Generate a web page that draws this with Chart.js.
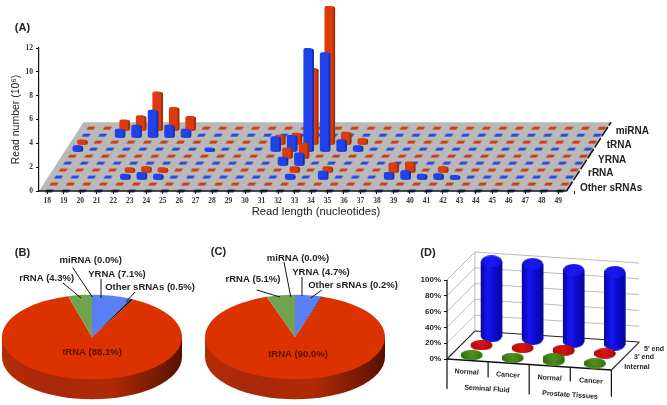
<!DOCTYPE html>
<html>
<head>
<meta charset="utf-8">
<style>
html, body { margin: 0; padding: 0; background: #fff; overflow: hidden; }
canvas { position: absolute; display: block; }
</style>
<script src="https://cdn.jsdelivr.net/npm/chart.js@4/dist/chart.umd.min.js"></script>
</head>
<body>
<canvas id="chartA" width="667" height="222" style="left:0px;top:0px"></canvas>
<canvas id="chartB" width="205" height="190" style="left:0px;top:215px"></canvas>
<canvas id="chartC" width="210" height="190" style="left:200px;top:215px"></canvas>
<canvas id="chartD" width="257" height="190" style="left:410px;top:215px"></canvas>
<script>
// panel A
const readLengths = [18,19,20,21,22,23,24,25,26,27,28,29,30,31,32,33,34,35,36,37,38,39,40,41,42,43,44,45,46,47,48,49]
const otherBlue = [0,0,0,0,0,0,0,0,0,0,0,0,0,0,0,0,0,0,0,0,0,0,0,0,0,0,0,0,0,0,0,0]
const otherRed  = [0,0,0,0,0,0,0,0,0,0,0,0,0,0,0,0,0,0,0,0,0,0,0,0,0,0,0,0,0,0,0,0]
const rRNABlue  = [0,0,0,0,0.25,0.4,0.25,0,0,0,0,0,0,0,0.25,0,0.5,0,0,0,0.4,0.55,0.25,0.3,0.15,0,0,0,0,0,0,0]
const rRNARed   = [0,0,0,0,0.2,0.3,0.2,0,0,0,0,0,0,0,0.3,0,0.3,0,0,0,0.6,0.7,0,0.3,0,0,0,0,0,0,0,0]
const YRNABlue  = [0,0,0,0,0,0,0,0,0,0,0,0,0,0.5,0.85,0,0,0,0,0,0,0,0,0,0,0,0,0,0,0,0,0]
const YRNARed   = [0,0,0,0,0,0,0,0,0,0,0,0,0,0.7,1.1,0,0,0,0,0,0,0,0,0,0,0,0,0,0,0,0,0]
const tRNABlue  = [0.3,0,0,0,0,0,0,0,0.1,0,0,0,1.05,1.15,8.45,8.1,0.8,0.3,0,0,0,0,0,0,0,0,0,0,0,0,0,0]
const tRNARed   = [0.2,0,0,0,0,0,0,0,0,0,0,0,0.6,0.75,6.2,11.4,0.85,0.3,0,0,0,0,0,0,0,0,0,0,0,0,0,0]
const miRNABlue = [0,0,0.5,0.85,2.1,0.85,0.5,0,0,0,0,0,0,0,0,0,0,0,0,0,0,0,0,0,0,0,0,0,0,0,0,0]
const miRNARed  = [0,0,0.7,1.05,3.05,1.75,1.0,0,0,0,0,0,0,0,0,0,0,0,0,0,0,0,0,0,0,0,0,0,0,0,0,0]
const rnaTypes = ['Other sRNAs', 'rRNA', 'YRNA', 'tRNA', 'miRNA']

// panels B and C, clockwise from 12 o'clock
const pieNames = ['YRNA', 'Other sRNAs', 'tRNA', 'rRNA', 'miRNA']
const pieColors = ['#5b80f6', '#1c1c1c', '#dc3200', '#6fa34e', '#333333']
const pieB = [7.1, 0.5, 88.1, 4.3, 0.0]
const pieC = [4.7, 0.2, 90.0, 5.1, 0.0]

// panel D
const samples = ['Normal', 'Cancer', 'Normal', 'Cancer']
const tissues = ['Seminal Fluid', 'Prostate Tissues']
const endLabels = ['Internal', "3' end", "5' end"]
const internalPct = [3, 3, 6, 3]
const threePrimePct = [3, 3, 4, 3]
const fivePrimePct = [95, 95, 91, 92]
const pctTicks = [0, 20, 40, 60, 80, 100]

const SANS = '"Liberation Sans", Arial, sans-serif'
Chart.defaults.font.family = SANS
Chart.defaults.animation = false
Chart.defaults.plugins.legend.display = false
Chart.defaults.plugins.tooltip.enabled = false

// text and small lines given in page coordinates
function notes(left, top, texts, lines) {
    return {
        id: 'notes',
        afterDraw(chart) {
            const ctx = chart.ctx
            ctx.save()
            ctx.strokeStyle = '#111'
            ctx.lineWidth = 1
            lines.forEach(l => {
                ctx.beginPath()
                ctx.moveTo(l[0] - left, l[1] - top)
                ctx.lineTo(l[2] - left, l[3] - top)
                ctx.stroke()
            })
            ctx.textBaseline = 'middle'
            texts.forEach(t => {
                ctx.save()
                ctx.translate(t.x - left, t.y - top)
                ctx.rotate(t.rot || 0)
                ctx.font = t.font
                ctx.fillStyle = t.color || '#222'
                ctx.textAlign = t.align || 'center'
                ctx.fillText(t.text, 0, 0)
                ctx.restore()
            })
            ctx.restore()
        }
    }
}

function line(points, color, width, order, extra) {
    return Object.assign({
        type: 'scatter', showLine: true, data: points, borderColor: color, borderWidth: width,
        pointRadius: 0, order: order, clip: false, fill: false, tension: 0
    }, extra || {})
}

// ---------- (A) ----------
const DEPTH_X = 0.28, DEPTH_Y = 0.586, BAR_SHIFT = 0.12
const LEFT_EDGE = 17.5, RIGHT_EDGE = 49.5, X_MAX = 55.29

function dashImage(color) {
    const c = document.createElement('canvas')
    c.width = 11
    c.height = 5
    const g = c.getContext('2d')
    g.fillStyle = color
    g.beginPath()
    g.moveTo(3, 0.9)
    g.lineTo(10.2, 0.9)
    g.lineTo(8, 4)
    g.lineTo(0.8, 4)
    g.closePath()
    g.fill()
    return c
}

function rowDatasets(values, depth, front, side, dash) {
    const flat = [], body = [], shade = []
    values.forEach((v, i) => {
        const x = readLengths[i] + BAR_SHIFT + depth * DEPTH_X
        const base = depth * DEPTH_Y
        if (v === 0) {
            flat.push({ x: x, y: base })
        } else {
            body.push({ x: x, y: [base - 0.2, base + v] })
            shade.push({ x: x + 0.12, y: [base - 0.2, base + v - 0.05] })
        }
    })
    const bar = (data, color, order) => ({
        type: 'bar', data: data, backgroundColor: color, barThickness: 8, grouped: false,
        borderRadius: 2, borderSkipped: false, order: order, clip: false
    })
    return [
        { type: 'scatter', data: flat, pointStyle: dashImage(dash), pointRadius: 4, order: depth * 10 + 3, clip: false },
        bar(shade, side, depth * 10 + 2),
        bar(body, front, depth * 10 + 1)
    ]
}

const BLUE = ['#1f42ea', '#1732b0', '#2a4cdc']
const RED = ['#dc3a08', '#a82c0a', '#cc3f14']
const floorCorners = [
    { x: LEFT_EDGE, y: 0 }, { x: RIGHT_EDGE, y: 0 },
    { x: RIGHT_EDGE + 2.7, y: 5.77 }, { x: LEFT_EDGE + 2.7, y: 5.77 }, { x: LEFT_EDGE, y: 0 }
]

new Chart(document.getElementById('chartA'), {
    type: 'bar',
    data: {
        datasets: [
            line(floorCorners, '#b9b9b9', 0, 1000, { fill: 'shape', backgroundColor: '#b9b9b9' }),
            line([floorCorners[0], floorCorners[1]], '#111', 1.4, -1),
            line([floorCorners[1], floorCorners[2]], '#111', 1.5, -1, { borderDash: [11, 2] }),
            ...rowDatasets(otherBlue, 0, ...BLUE.slice(0, 2), '#1f3299'),
            ...rowDatasets(otherRed, 1, ...RED),
            ...rowDatasets(rRNABlue, 2, ...BLUE),
            ...rowDatasets(rRNARed, 3, ...RED),
            ...rowDatasets(YRNABlue, 4, ...BLUE),
            ...rowDatasets(YRNARed, 5, ...RED),
            ...rowDatasets(tRNABlue, 6, ...BLUE),
            ...rowDatasets(tRNARed, 7, ...RED),
            ...rowDatasets(miRNABlue, 8, ...BLUE),
            ...rowDatasets(miRNARed, 9, ...RED)
        ]
    },
    options: {
        responsive: false,
        layout: { padding: { top: 48, left: 0, right: 0, bottom: 0 } },
        scales: {
            x: {
                type: 'linear', position: 'bottom', weight: 1, offset: false, min: LEFT_EDGE, max: X_MAX,
                grid: { display: false, drawTicks: false }, border: { display: false },
                afterBuildTicks: s => { s.ticks = readLengths.map(v => ({ value: v })) },
                afterFit: s => { s.height = 28 },
                ticks: {
                    autoSkip: false, maxRotation: 0, padding: 3, color: '#333',
                    font: { family: '"Liberation Serif", serif', size: 7.5, weight: 'bold' }
                }
            },
            xMarks: {
                type: 'linear', axis: 'x', position: 'bottom', weight: 0, offset: false, min: LEFT_EDGE, max: X_MAX,
                grid: { drawOnChartArea: false, tickLength: 3, tickColor: '#111' }, border: { display: false },
                afterBuildTicks: s => { s.ticks = readLengths.map(v => ({ value: v - 0.5 })).concat({ value: RIGHT_EDGE }) },
                afterFit: s => { s.height = 3 },
                ticks: { display: false, autoSkip: false }
            },
            y: {
                min: 0, max: 12,
                grid: { drawOnChartArea: false, tickLength: 3, tickColor: '#111' },
                border: { color: '#111', width: 1.2 },
                afterFit: s => { s.width = 39 },
                title: { display: true, text: 'Read number (10\u2076)', color: '#222', font: { size: 10.5 }, padding: { top: 10, bottom: 0 } },
                ticks: {
                    stepSize: 2, padding: 3, color: '#333',
                    font: { family: '"Liberation Serif", serif', size: 7.5, weight: 'bold' }
                }
            }
        }
    },
    plugins: [notes(0, 0, [
        { text: '(A)', x: 22.5, y: 28, font: 'bold 11px ' + SANS },
        { text: 'Read length (nucleotides)', x: 316, y: 212, font: '11.3px ' + SANS },
        { text: rnaTypes[4], x: 615.7, y: 131, align: 'left', font: 'bold 10px ' + SANS },
        { text: rnaTypes[3], x: 606.7, y: 145.5, align: 'left', font: 'bold 10px ' + SANS },
        { text: rnaTypes[2], x: 598, y: 160, align: 'left', font: 'bold 10px ' + SANS },
        { text: rnaTypes[1], x: 588, y: 173.5, align: 'left', font: 'bold 10px ' + SANS },
        { text: rnaTypes[0], x: 580, y: 188, align: 'left', font: 'bold 10px ' + SANS }
    ], [])]
})

// ---------- (B), (C) ----------
const TILT = 0.47, WALL = 20

const tiltedPie = {
    id: 'tiltedPie',
    beforeDatasetsDraw(chart) {
        const arc = chart.getDatasetMeta(0).data[0]
        const ctx = chart.ctx
        const cx = arc.x, cy = arc.y, r = arc.outerRadius
        const wall = ctx.createLinearGradient(cx - r, 0, cx + r, 0)
        wall.addColorStop(0, '#b42c08')
        wall.addColorStop(0.3, '#a8280a')
        wall.addColorStop(0.6, '#b02a06')
        wall.addColorStop(0.85, '#7a1c02')
        wall.addColorStop(1, '#561000')
        ctx.fillStyle = wall
        ctx.beginPath()
        ctx.moveTo(cx - r, cy)
        ctx.lineTo(cx - r, cy + WALL)
        ctx.ellipse(cx, cy + WALL, r, r * TILT, 0, Math.PI, 0, true)
        ctx.lineTo(cx + r, cy)
        ctx.closePath()
        ctx.fill()
        ctx.save()
        ctx.translate(cx, cy)
        ctx.scale(1, TILT)
        ctx.translate(-cx, -cy)
    },
    afterDatasetsDraw(chart) {
        chart.ctx.restore()
    }
}

function pieChart(id, values, padding, plugin) {
    return new Chart(document.getElementById(id), {
        type: 'pie',
        data: { labels: pieNames, datasets: [{ data: values, backgroundColor: pieColors, borderWidth: 0 }] },
        options: { responsive: false, radius: 90, layout: { padding: padding } },
        plugins: [tiltedPie, plugin]
    })
}

const PIE_FONT = 'bold 9.5px ' + SANS
const pct = (values, i) => pieNames[i] + ' (' + values[i].toFixed(1) + '%)'

pieChart('chartB', pieB, { top: 54, right: 21 }, notes(0, 215, [
    { text: '(B)', x: 22.5, y: 253, font: 'bold 11px ' + SANS },
    { text: pct(pieB, 4), x: 90.7, y: 260, font: PIE_FONT },
    { text: pct(pieB, 0), x: 117, y: 274, font: PIE_FONT },
    { text: pct(pieB, 3), x: 46.7, y: 278, font: PIE_FONT },
    { text: pct(pieB, 1), x: 150, y: 287, font: PIE_FONT },
    { text: pct(pieB, 2), x: 92, y: 352.7, font: PIE_FONT, color: '#5a1000' }
], [[72.7, 267.7, 92.3, 297], [101, 279, 101, 298], [63, 283, 81, 298], [135, 292, 126, 302]]))

pieChart('chartC', pieC, { top: 54, right: 20 }, notes(200, 215, [
    { text: '(C)', x: 218.5, y: 252, font: 'bold 11px ' + SANS },
    { text: pct(pieC, 4), x: 298, y: 258, font: PIE_FONT },
    { text: pct(pieC, 0), x: 321, y: 272, font: PIE_FONT },
    { text: pct(pieC, 3), x: 253, y: 279, font: PIE_FONT },
    { text: pct(pieC, 1), x: 353, y: 285, font: PIE_FONT },
    { text: pct(pieC, 2), x: 298, y: 354, font: PIE_FONT, color: '#5a1000' }
], [[284, 262, 290.7, 296.7], [302, 277, 302, 296], [256.7, 290, 280, 297], [321.7, 290, 311, 298]]))

// ---------- (D) ----------
const SKEW_X = 0.679, SKEW_UP = 35.4, SLOPE = 3.48
const px = (i, d) => i + d * SKEW_X
const py = (i, d, v) => v + d * SKEW_UP - i * SLOPE
const pt = (i, d, v) => ({ x: px(i, d), y: py(i, d, v) })

function discImage(w, h, stops) {
    const c = document.createElement('canvas')
    c.width = w
    c.height = h
    const g = c.getContext('2d')
    const grad = g.createLinearGradient(0, 0, w, 0)
    stops.forEach((s, i) => grad.addColorStop(i / (stops.length - 1), s))
    g.fillStyle = grad
    g.beginPath()
    g.ellipse(w / 2, h / 2, w / 2, h / 2, 0, 0, Math.PI * 2)
    g.fill()
    return c
}

function cylinders(values, depth, width, capH, stops, capStops, order) {
    const bases = [], tops = [], bodies = []
    values.forEach((v, k) => {
        const i = k + 0.5
        bases.push(pt(i, depth, 0))
        tops.push(pt(i, depth, v))
        bodies.push({ x: px(i, depth), y: [py(i, depth, 0), py(i, depth, v)] })
    })
    return [
        { type: 'scatter', data: bases, pointStyle: discImage(width, capH, stops), pointRadius: 5, order: order + 2, clip: false },
        {
            type: 'bar', data: bodies, barThickness: width, grouped: false, order: order + 1, clip: false,
            backgroundColor: c => {
                const mid = c.raw ? c.chart.scales.x.getPixelForValue(c.raw.x) : NaN
                if (!isFinite(mid)) return stops[1]
                const g = c.chart.ctx.createLinearGradient(mid - width / 2, 0, mid + width / 2, 0)
                stops.forEach((s, n) => g.addColorStop(n / (stops.length - 1), s))
                return g
            }
        },
        { type: 'scatter', data: tops, pointStyle: discImage(width, capH, capStops), pointRadius: 5, order: order, clip: false }
    ]
}

const wallLines = []
pctTicks.slice(1).forEach(v => {
    wallLines.push(line([pt(0, 0, v), pt(0, 1, v), pt(4, 1, v)], '#a8a8a8', 0.8, 90))
})
const dividerDepths = [-38, -20, -38, -18, -34]
const dividers = dividerDepths.map((d, i) => line([pt(i, 0, 0), pt(i, 0, d)], '#111', 1.2, -1))

const DEG = Math.atan2(11, 165)
const TINY = 'bold 7px ' + SANS

new Chart(document.getElementById('chartD'), {
    type: 'bar',
    data: {
        datasets: [
            ...wallLines,
            line([pt(0, 0, 0), pt(0, 0, 100)], '#111', 1.3, -1),
            line([pt(0, 1, 0), pt(0, 1, 100)], '#a8a8a8', 0.8, 90),
            line([pt(0, 0, 0), pt(4, 0, 0)], '#111', 1.3, 60),
            line([pt(0, 0, 0), pt(0, 1, 0)], '#222', 1.1, 60),
            line([pt(0, 1, 0), pt(4, 1, 0)], '#222', 1.1, 60),
            line([pt(4, 0, 0), pt(4, 1, 0)], '#222', 1.1, 60),
            ...dividers,
            ...cylinders(internalPct, 0.146, 21, 8, ['#2f6a0c', '#4b8a1c', '#2f6a0c'], ['#35750f', '#4f8f20', '#35750f'], 10),
            ...cylinders(threePrimePct, 0.5, 21, 8, ['#b00808', '#d41212', '#a80606'], ['#bb0a0a', '#d81414', '#b00808'], 20),
            ...cylinders(fivePrimePct, 0.86, 21, 12, ['#0808a4', '#1616f4', '#0a0acc', '#08089a'], ['#1212dc', '#1a1af6', '#1212dc'], 30)
        ]
    },
    options: {
        responsive: false,
        layout: { padding: { top: 33.4, bottom: 30.2, left: 0, right: 0 } },
        scales: {
            x: {
                type: 'linear', display: false, offset: false, min: 0, max: 5.207
            },
            y: {
                min: -20, max: 140,
                grid: { drawOnChartArea: false, tickLength: 3, tickColor: '#111' },
                border: { display: false },
                afterBuildTicks: s => { s.ticks = pctTicks.map(v => ({ value: v })) },
                afterFit: s => { s.width = 37 },
                ticks: {
                    autoSkip: false, padding: 3, color: '#222', callback: v => v + '%',
                    font: { size: 8, weight: 'bold' }
                }
            }
        }
    },
    plugins: [notes(410, 215, [
        { text: '(D)', x: 428, y: 253, font: 'bold 11px ' + SANS },
        { text: samples[0], x: 466.7, y: 372, rot: DEG, font: TINY },
        { text: samples[1], x: 508, y: 375, rot: DEG, font: TINY },
        { text: samples[2], x: 549.7, y: 378, rot: DEG, font: TINY },
        { text: samples[3], x: 591, y: 381, rot: DEG, font: TINY },
        { text: tissues[0], x: 487, y: 389, rot: DEG, font: TINY },
        { text: tissues[1], x: 570, y: 395, rot: DEG, font: TINY },
        { text: endLabels[2], x: 654, y: 349, font: TINY },
        { text: endLabels[1], x: 644, y: 357, font: TINY },
        { text: endLabels[0], x: 637, y: 367, font: TINY }
    ], [])]
})
</script>
</body>
</html>
